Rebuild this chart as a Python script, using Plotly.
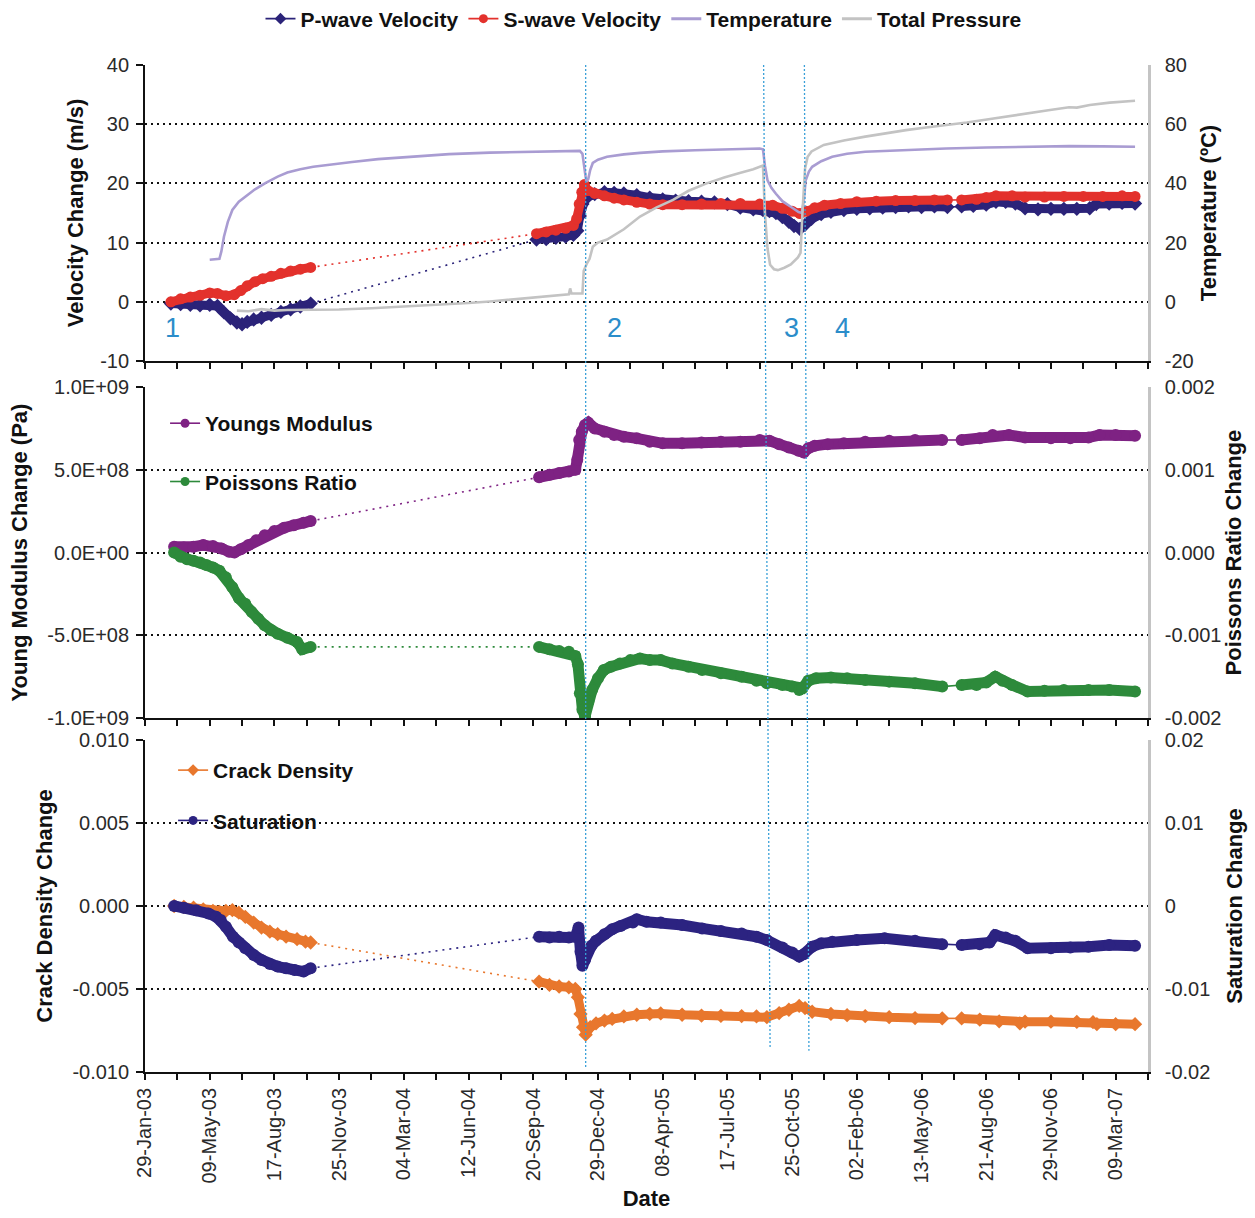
import pandas as pd
import plotly.graph_objects as go

START = "2003-01-29"
END = "2007-04-28"

# ---------------- top panel: velocity change (m/s), day offsets from START ----------------
P_D1 = [40, 55, 70, 85, 100, 112, 122, 132, 142, 150, 158, 168, 180, 195, 210, 225, 240, 256]
P_V1 = [-0.3, -0.4, -0.5, -0.6, -0.5, -0.7, -1.8, -2.8, -3.5, -3.8, -3.4, -3.0, -2.7, -2.2, -1.7, -1.3, -0.8, -0.3]
P_D2 = [605, 620, 635, 650, 662, 668, 672, 676, 680, 685, 695, 710, 725, 740, 760, 780, 800, 820, 840, 860,
        880, 900, 920, 940, 955, 965, 975, 985, 995, 1003, 1012, 1020, 1030, 1045, 1060, 1080, 1100, 1120,
        1140, 1160, 1180, 1200, 1220, 1240]
P_V2 = [10.5, 10.6, 10.8, 11.0, 11.3, 12.0, 14.5, 16.5, 17.3, 17.8, 18.2, 18.5, 18.4, 18.3, 18.0, 17.6, 17.3,
        17.1, 17.0, 16.9, 16.8, 16.5, 15.9, 15.6, 15.5, 15.3, 15.0, 14.3, 13.5, 12.8, 12.3, 13.0, 14.0, 14.8,
        15.2, 15.5, 15.7, 15.8, 15.9, 16.0, 16.1, 16.0, 16.1, 16.0]
P_D3 = [1262, 1280, 1300, 1315, 1330, 1345, 1360, 1380, 1400, 1420, 1440, 1460, 1470, 1490, 1510, 1530]
P_V3 = [16.1, 16.2, 16.4, 16.9, 16.9, 16.6, 15.8, 15.6, 15.7, 15.7, 15.7, 15.8, 16.5, 16.6, 16.7, 16.6]

S_D1 = [40, 55, 70, 85, 100, 112, 125, 138, 148, 158, 170, 182, 195, 210, 225, 240, 256]
S_V1 = [0.0, 0.5, 0.8, 1.1, 1.5, 1.4, 1.0, 1.2, 1.9, 2.7, 3.4, 3.9, 4.3, 4.8, 5.2, 5.5, 5.8]
S_D2 = [605, 620, 635, 650, 662, 667, 671, 675, 679, 684, 695, 710, 725, 740, 760, 780, 800, 830, 860, 890,
        920, 950, 970, 985, 1000, 1012, 1022, 1035, 1050, 1075, 1100, 1130, 1160, 1190, 1220, 1240]
S_V2 = [11.5, 11.8, 12.1, 12.4, 12.9, 14.0, 16.5, 18.5, 19.8, 18.8, 18.3, 17.9, 17.5, 17.2, 16.8, 16.5, 16.4,
        16.4, 16.5, 16.6, 16.6, 16.5, 16.3, 15.8, 15.3, 14.9, 15.3, 15.9, 16.3, 16.6, 16.9, 17.0, 17.1, 17.1,
        17.2, 17.2]
S_D3 = [1262, 1285, 1300, 1315, 1340, 1360, 1390, 1420, 1450, 1480, 1510, 1530]
S_V3 = [17.2, 17.3, 17.6, 17.9, 17.9, 17.7, 17.7, 17.8, 17.8, 17.8, 17.9, 17.8]

# temperature (ºC) and total pressure on the right axis
TEMP_D = [100, 115, 118, 122, 128, 135, 145, 155, 170, 186, 205, 220, 240, 260, 281, 320, 360, 407, 470, 533,
          600, 672, 676, 679, 682, 685, 688, 692, 700, 714, 740, 765, 800, 850, 900, 950, 955, 958, 962, 968,
          975, 985, 998, 1010, 1015, 1018, 1021, 1026, 1031, 1045, 1062, 1085, 1113, 1170, 1238, 1300, 1360,
          1428, 1480, 1530]
TEMP_V = [14.2, 14.5, 17.0, 22.0, 27.0, 31.0, 33.8, 35.5, 38.0, 40.1, 42.3, 43.7, 44.8, 45.6, 46.2, 47.2, 48.2,
          49.0, 49.9, 50.4, 50.7, 51.0, 50.0, 45.0, 40.5, 41.5, 44.5, 46.9, 48.0, 49.0, 49.8, 50.3, 50.8, 51.2,
          51.5, 51.8, 51.5, 46.0, 41.0, 38.5, 36.5, 34.0, 32.1, 30.3, 30.0, 34.0, 41.0, 44.0, 45.6, 47.5, 49.0,
          50.0, 50.7, 51.3, 51.8, 52.1, 52.4, 52.6, 52.5, 52.4]
PRES_D = [142, 160, 180, 200, 220, 256, 300, 350, 406, 450, 500, 533, 580, 620, 655, 657, 659, 676, 678, 683,
          687, 692, 700, 714, 740, 765, 790, 816, 840, 868, 895, 919, 940, 955, 958, 962, 966, 972, 978, 988,
          998, 1009, 1013, 1016, 1020, 1024, 1030, 1049, 1080, 1113, 1145, 1176, 1207, 1238, 1270, 1301, 1333,
          1364, 1396, 1428, 1440, 1460, 1491, 1530]
PRES_V = [-3.0, -3.2, -2.5, -3.0, -2.8, -2.7, -2.6, -2.2, -1.6, -1.0, -0.4, 0.1, 1.0, 1.8, 2.5, 4.5, 2.8, 2.8,
          10.5, 13.0, 14.5, 18.6, 20.0, 21.0, 24.5, 28.8, 31.8, 34.4, 37.5, 40.0, 42.0, 43.5, 44.8, 46.0, 30.0,
          18.0, 12.5, 11.0, 10.7, 11.5, 12.6, 15.0, 16.5, 30.0, 45.0, 49.0, 50.8, 53.0, 54.5, 55.8, 57.0, 58.0,
          58.9, 59.7, 60.6, 61.6, 62.7, 63.7, 64.7, 65.7, 65.6, 66.5, 67.3, 67.9]

# ---------------- middle panel: Young's modulus (Pa), Poisson's ratio (x1e-3) ----------------
YM_D1 = [45, 60, 75, 90, 105, 118, 130, 138, 148, 160, 172, 185, 200, 215, 230, 245, 256]
YM_V1 = [3.5e7, 3.0e7, 3.5e7, 4.5e7, 4.0e7, 2.5e7, 0.5e7, 0.0, 2.0e7, 4.5e7, 7.5e7, 1.05e8, 1.3e8, 1.5e8,
         1.65e8, 1.8e8, 1.9e8]
YM_D2 = [609, 625, 640, 655, 665, 668, 671, 675, 680, 685, 695, 710, 725, 740, 760, 780, 800, 830, 860, 890,
         920, 950, 965, 980, 995, 1010, 1018, 1025, 1035, 1055, 1080, 1113, 1150, 1190, 1232]
YM_V2 = [4.55e8, 4.7e8, 4.8e8, 4.9e8, 5.0e8, 5.6e8, 6.8e8, 7.3e8, 7.7e8, 7.85e8, 7.5e8, 7.3e8, 7.1e8, 7.0e8,
         6.9e8, 6.7e8, 6.6e8, 6.6e8, 6.65e8, 6.7e8, 6.7e8, 6.8e8, 6.75e8, 6.55e8, 6.35e8, 6.15e8, 6.05e8,
         6.3e8, 6.45e8, 6.55e8, 6.6e8, 6.7e8, 6.75e8, 6.8e8, 6.8e8]
YM_D3 = [1262, 1290, 1310, 1335, 1360, 1400, 1430, 1458, 1475, 1500, 1530]
YM_V3 = [6.8e8, 6.9e8, 7.1e8, 7.1e8, 6.95e8, 6.9e8, 6.9e8, 6.95e8, 7.1e8, 7.1e8, 7.05e8]

MILLI = 1e-3
PR_D1 = [45, 55, 65, 75, 85, 95, 105, 115, 125, 135, 145, 155, 165, 175, 185, 195, 205, 220, 235, 243, 256]
PR_V1 = [0.0, -0.05, -0.08, -0.1, -0.12, -0.15, -0.18, -0.22, -0.3, -0.42, -0.55, -0.62, -0.72, -0.8, -0.88,
         -0.94, -0.98, -1.03, -1.08, -1.17, -1.14]
PR_D2 = [609, 625, 640, 655, 665, 669, 672, 676, 680, 685, 691, 700, 709, 720, 734, 750, 765, 780, 797, 815,
         840, 861, 890, 922, 945, 961, 985, 1000, 1011, 1016, 1025, 1037, 1060, 1085, 1113, 1150, 1190, 1232]
PR_V2 = [-1.14, -1.17, -1.19, -1.2, -1.25, -1.35, -1.7, -1.9, -1.98, -1.8, -1.66, -1.52, -1.42, -1.38, -1.34,
         -1.3, -1.28, -1.3, -1.3, -1.34, -1.38, -1.42, -1.46, -1.5, -1.55, -1.58, -1.6, -1.62, -1.66, -1.64,
         -1.55, -1.52, -1.51, -1.52, -1.54, -1.56, -1.58, -1.62]
PR_D3 = [1262, 1285, 1300, 1314, 1325, 1340, 1364, 1390, 1420, 1458, 1490, 1530]
PR_V3 = [-1.6, -1.6, -1.57, -1.50, -1.55, -1.6, -1.68, -1.67, -1.66, -1.66, -1.66, -1.68]

# ---------------- bottom panel: crack density, saturation (x1e-3) ----------------
CD_D1 = [45, 60, 75, 90, 105, 115, 125, 135, 145, 155, 168, 180, 193, 205, 218, 235, 248, 256]
CD_V1 = [0.0, -0.05, -0.1, -0.2, -0.3, -0.35, -0.3, -0.25, -0.4, -0.65, -1.0, -1.3, -1.55, -1.7, -1.85, -2.0,
         -2.15, -2.2]
CD_D2 = [609, 625, 640, 655, 665, 669, 673, 677, 681, 688, 697, 710, 722, 740, 760, 780, 797, 830, 860, 890,
         922, 945, 961, 980, 995, 1011, 1020, 1031, 1060, 1085, 1113, 1150, 1190, 1232]
CD_V2 = [-4.56, -4.75, -4.85, -4.9, -5.0, -5.5, -6.5, -7.3, -7.75, -7.3, -7.07, -6.9, -6.8, -6.65, -6.55, -6.5,
         -6.47, -6.55, -6.6, -6.62, -6.63, -6.65, -6.7, -6.45, -6.25, -6.02, -6.15, -6.37, -6.5, -6.58, -6.63,
         -6.7, -6.75, -6.77]
CD_D3 = [1262, 1290, 1320, 1352, 1360, 1400, 1440, 1465, 1471, 1500, 1530]
CD_V3 = [-6.77, -6.85, -6.95, -7.07, -6.97, -6.97, -6.98, -7.0, -7.12, -7.12, -7.12]

SA_D1 = [45, 60, 79, 98, 110, 117, 125, 136, 145, 155, 168, 180, 193, 205, 218, 231, 245, 256]
SA_V1 = [0.0, -0.2, -0.5, -0.9, -1.3, -1.7, -2.5, -3.7, -4.4, -5.1, -5.9, -6.5, -7.0, -7.3, -7.5, -7.7, -7.9,
         -7.5]
SA_D2 = [609, 625, 640, 655, 665, 670, 673, 676, 680, 684, 690, 697, 710, 722, 735, 754, 760, 775, 797, 830,
         861, 890, 922, 945, 961, 985, 1000, 1011, 1018, 1031, 1045, 1062, 1100, 1143, 1190, 1232]
SA_V2 = [-3.7, -3.8, -3.7, -3.8, -3.7, -2.6, -5.5, -7.2, -6.5, -5.4, -4.8, -4.2, -3.4, -2.8, -2.4, -2.0, -1.6,
         -1.9, -2.0, -2.3, -2.7, -3.0, -3.3, -3.7, -4.1, -5.0, -5.6, -6.1, -5.8, -4.9, -4.5, -4.3, -4.1, -3.9,
         -4.2, -4.6]
SA_D3 = [1262, 1290, 1305, 1314, 1330, 1345, 1364, 1400, 1430, 1458, 1490, 1530]
SA_V3 = [-4.7, -4.6, -4.4, -3.5, -3.8, -4.2, -5.1, -5.1, -5.0, -4.9, -4.7, -4.8]

# stage markers and boundary lines (day offsets)
STAGE_TEXT = ["1", "2", "3", "4"]
STAGE_DAYS = [42, 725, 999, 1078]
STAGE_Y = -4.4
BOUNDARY_TOP = [681, 956, 1019]
BOUNDARY_BOTTOM = [681, 966, 1026]
BOUNDARY_END = [0.005, 0.023, 0.021]

# axis tick labels
VEL_TICKS = [-10, 0, 10, 20, 30, 40]
VEL_LABELS = ["-10", "0", "10", "20", "30", "40"]
TEMP_TICKS = [-20, 0, 20, 40, 60, 80]
TEMP_LABELS = ["-20", "0", "20", "40", "60", "80"]
YM_TICKS = [-1e9, -5e8, 0, 5e8, 1e9]
YM_LABELS = ["-1.0E+09", "-5.0E+08", "0.0E+00", "5.0E+08", "1.0E+09"]
PR_TICKS = [-0.002, -0.001, 0, 0.001, 0.002]
PR_LABELS = ["-0.002", "-0.001", "0.000", "0.001", "0.002"]
CD_TICKS = [-0.01, -0.005, 0, 0.005, 0.01]
CD_LABELS = ["-0.010", "-0.005", "0.000", "0.005", "0.010"]
SA_TICKS = [-0.02, -0.01, 0, 0.01, 0.02]
SA_LABELS = ["-0.02", "-0.01", "0", "0.01", "0.02"]

# ---------------- styling ----------------
C_P = "#2b2379"
C_S = "#e3312c"
C_T = "#a99cd2"
C_PR = "#c3c3c3"
C_YM = "#7e2283"
C_PO = "#2d8a3b"
C_CD = "#e8772d"
C_SA = "#2c2381"
C_LINE = "#3aa0d8"
C_NUM = "#2b8dca"
FONT = "Liberation Sans, Arial, sans-serif"

t0 = pd.Timestamp(START)


def dates(days):
    return [t0 + pd.Timedelta(days=d) for d in days]


fig = go.Figure()


def add_band(segs, color, symbol, xa, ya, width=8, size=10, scale=1.0):
    xs, ys = [], []
    for i, (d, v) in enumerate(segs):
        if i:
            xs.append(None)
            ys.append(None)
        xs += dates(d)
        ys += [val * scale for val in v]
    # connectors between measurement segments
    for i in range(len(segs) - 1):
        d0, v0 = segs[i]
        d1, v1 = segs[i + 1]
        fig.add_trace(go.Scatter(
            x=dates([d0[-1], d1[0]]), y=[v0[-1] * scale, v1[0] * scale], mode="lines",
            line=dict(color=color, width=1.6, dash="2px,5px" if i == 0 else "solid"),
            xaxis=xa, yaxis=ya, showlegend=False, hoverinfo="skip"))
    fig.add_trace(go.Scatter(
        x=xs, y=ys, mode="lines+markers", connectgaps=False,
        line=dict(color=color, width=width),
        marker=dict(color=color, symbol=symbol, size=size, line=dict(width=0)),
        xaxis=xa, yaxis=ya, showlegend=False, hoverinfo="skip"))


def add_proxy(name, color, legend, mode="lines+markers", symbol="circle", lw=1.6):
    fig.add_trace(go.Scatter(
        x=[None], y=[None], mode=mode, name=name, legend=legend, legendgroup=name,
        line=dict(color=color, width=lw), marker=dict(color=color, symbol=symbol, size=9),
        xaxis="x", yaxis="y", showlegend=True))


# top panel
add_band([(P_D1, P_V1), (P_D2, P_V2), (P_D3, P_V3)], C_P, "diamond", "x", "y", width=9, size=11)
add_band([(S_D1, S_V1), (S_D2, S_V2), (S_D3, S_V3)], C_S, "circle", "x", "y", width=9, size=11)
fig.add_trace(go.Scatter(x=dates(TEMP_D), y=TEMP_V, mode="lines", line=dict(color=C_T, width=2.6),
                         xaxis="x", yaxis="y2", showlegend=False, hoverinfo="skip"))
fig.add_trace(go.Scatter(x=dates(PRES_D), y=PRES_V, mode="lines", line=dict(color=C_PR, width=2.6),
                         xaxis="x", yaxis="y2", showlegend=False, hoverinfo="skip"))

# middle panel
add_band([(YM_D1, YM_V1), (YM_D2, YM_V2), (YM_D3, YM_V3)], C_YM, "circle", "x2", "y3", width=11, size=12)
add_band([(PR_D1, PR_V1), (PR_D2, PR_V2), (PR_D3, PR_V3)], C_PO, "circle", "x2", "y4", width=11, size=12,
         scale=MILLI)

# bottom panel
add_band([(CD_D1, CD_V1), (CD_D2, CD_V2), (CD_D3, CD_V3)], C_CD, "diamond", "x3", "y5", width=9, size=11,
         scale=MILLI)
add_band([(SA_D1, SA_V1), (SA_D2, SA_V2), (SA_D3, SA_V3)], C_SA, "circle", "x3", "y6", width=11, size=12,
         scale=MILLI)

# legends
add_proxy("P-wave Velocity", C_P, "legend", symbol="diamond")
add_proxy("S-wave Velocity", C_S, "legend", symbol="circle")
add_proxy("Temperature", C_T, "legend", mode="lines", lw=3)
add_proxy("Total Pressure", C_PR, "legend", mode="lines", lw=3)
add_proxy("Youngs Modulus", C_YM, "legend2", symbol="circle")
add_proxy("Poissons Ratio", C_PO, "legend2", symbol="circle")
add_proxy("Crack Density", C_CD, "legend3", symbol="diamond")
add_proxy("Saturation", C_SA, "legend3", symbol="circle")

# boundary lines
for a, b, e in zip(BOUNDARY_TOP, BOUNDARY_BOTTOM, BOUNDARY_END):
    fig.add_shape(type="line", xref="x", yref="paper",
                  x0=dates([a])[0], x1=dates([b])[0], y0=1.0, y1=e,
                  line=dict(color=C_LINE, width=1.3, dash="2px,2px"), layer="above")

for txt, d in zip(STAGE_TEXT, STAGE_DAYS):
    fig.add_annotation(x=dates([d])[0], y=STAGE_Y, xref="x", yref="y", text=txt, showarrow=False,
                       font=dict(family=FONT, size=27, color=C_NUM))

DAY_MS = 86400000
tickfont = dict(family=FONT, size=20, color="#2a2a2a")
titlefont = dict(family=FONT, size=22, color="#111111", weight="bold")

xbase = dict(type="date", range=[START, END], tick0=START, dtick=100 * DAY_MS, tickformat="%d-%b-%y",
             tickangle=-90, ticks="outside", ticklen=6, tickwidth=1.5, tickcolor="#111",
             showline=True, linecolor="#111", linewidth=1.8, showgrid=False, zeroline=False,
             tickfont=tickfont, automargin=False,
             minor=dict(dtick=50 * DAY_MS, tick0=START, ticks="outside", ticklen=6, tickwidth=1.5,
                        tickcolor="#111", showgrid=False))

grid = dict(showgrid=True, gridcolor="#111", gridwidth=1.6, griddash="2px,4px", zeroline=False)
yleft = dict(showline=True, linecolor="#111", linewidth=1.8, ticks="outside", ticklen=7, tickwidth=1.5,
             tickcolor="#111", tickfont=tickfont, automargin=False, ticklabelstandoff=3, **grid)
yright = dict(showline=True, linecolor="#c4c4c4", linewidth=2.5, ticks="outside", ticklen=10,
              tickcolor="rgba(0,0,0,0)", showgrid=False, zeroline=False, tickfont=tickfont,
              automargin=False, side="right")

D_TOP = [0.7061, 1.0]
D_MID = [0.3515, 0.6802]
D_BOT = [0.0, 0.3297]

legend_font = dict(family=FONT, size=21, color="#111111", weight="bold")

fig.update_layout(
    width=1255, height=1218, template="none",
    margin=dict(l=145, r=107, t=65, b=146, autoexpand=False),
    paper_bgcolor="white", plot_bgcolor="white", hovermode=False,
    font=dict(family=FONT, size=20, color="#222"),
    xaxis=dict(xbase, anchor="y", showticklabels=False),
    xaxis2=dict(xbase, anchor="y3", matches="x", showticklabels=False),
    xaxis3=dict(xbase, anchor="y5", matches="x",
                title=dict(text="Date", font=titlefont, standoff=8)),
    yaxis=dict(yleft, domain=D_TOP, range=[-10, 40], tickvals=VEL_TICKS, ticktext=VEL_LABELS,
               title=dict(text="Velocity Change (m/s)", font=titlefont, standoff=10)),
    yaxis2=dict(yright, overlaying="y", anchor="x", range=[-20, 80], tickvals=TEMP_TICKS, ticktext=TEMP_LABELS,
                title=dict(text="Temperature (ºC)", font=titlefont, standoff=8)),
    yaxis3=dict(yleft, domain=D_MID, anchor="x2", range=[-1e9, 1e9], tickvals=YM_TICKS, ticktext=YM_LABELS,
                title=dict(text="Young Modulus Change (Pa)", font=titlefont, standoff=14)),
    yaxis4=dict(yright, overlaying="y3", anchor="x2", range=[-0.002, 0.002], tickvals=PR_TICKS,
                ticktext=PR_LABELS, title=dict(text="Poissons Ratio Change", font=titlefont, standoff=2)),
    yaxis5=dict(yleft, domain=D_BOT, anchor="x3", range=[-0.01, 0.01], tickvals=CD_TICKS, ticktext=CD_LABELS,
                title=dict(text="Crack Density Change", font=titlefont, standoff=14)),
    yaxis6=dict(yright, overlaying="y5", anchor="x3", range=[-0.02, 0.02], tickvals=SA_TICKS,
                ticktext=SA_LABELS, title=dict(text="Saturation Change", font=titlefont, standoff=18)),
    legend=dict(orientation="h", x=0.497, xanchor="center", y=1.0457, yanchor="middle",
                font=legend_font, bgcolor="rgba(0,0,0,0)", itemwidth=30),
    legend2=dict(orientation="v", x=0.020, xanchor="left", y=0.6643, yanchor="top", font=legend_font,
                 bgcolor="rgba(0,0,0,0)", tracegroupgap=28, traceorder="grouped"),
    legend3=dict(orientation="v", x=0.028, xanchor="left", y=0.3198, yanchor="top", font=legend_font,
                 bgcolor="rgba(0,0,0,0)", tracegroupgap=20, traceorder="grouped"),
)

fig.write_html("out.html")
